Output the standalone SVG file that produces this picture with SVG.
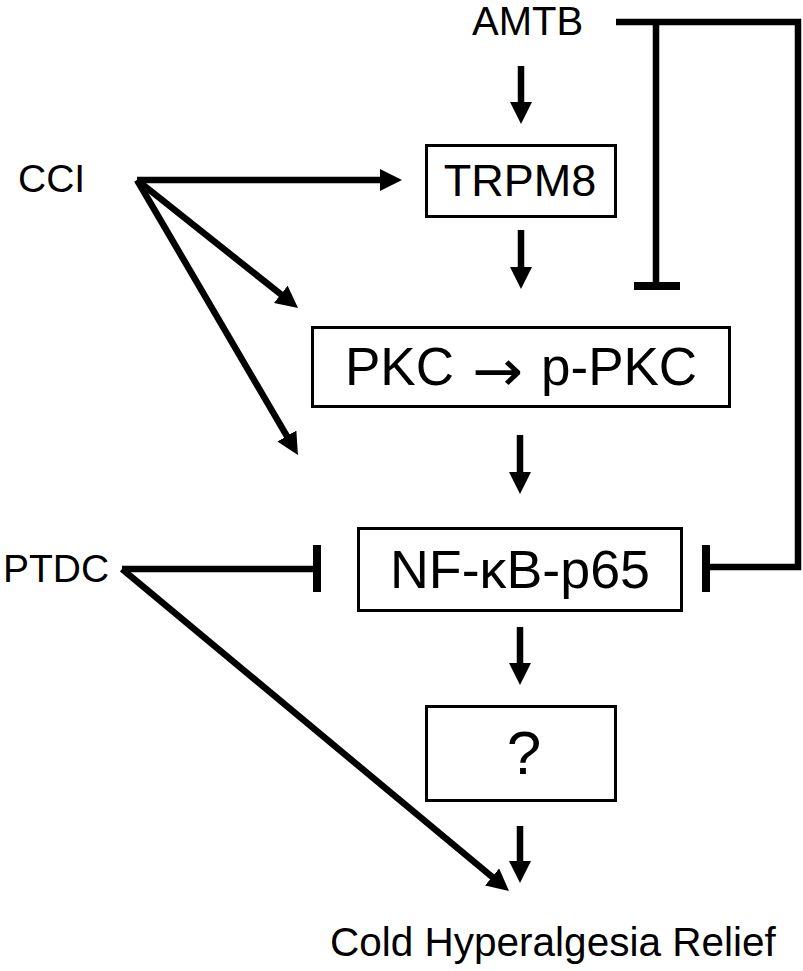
<svg xmlns="http://www.w3.org/2000/svg" width="803" height="971" viewBox="0 0 803 971">
  <style>
    text { font-family: "Liberation Sans", Arial, sans-serif; fill: #000; }
    .sym { font-family: "DejaVu Sans", sans-serif; }
    .box { fill: #fff; stroke: #000; stroke-width: 3; }
    .arr { fill: none; stroke: #000; stroke-width: 6.5; marker-end: url(#head); }
    .inh { fill: none; stroke: #000; stroke-width: 6.5; stroke-linejoin: miter; }
    .bar { fill: none; stroke: #000; stroke-width: 8; }
  </style>
  <defs>
    <marker id="head" markerUnits="userSpaceOnUse" viewBox="0 0 22 22" refX="12" refY="11" markerWidth="22" markerHeight="22" orient="auto">
      <path d="M0,0 L22,11 L0,22 z" fill="#000"/>
    </marker>
  </defs>

  <g id="connectors">
    <path class="arr" d="M521,66 L521,114"/>
    <path class="arr" d="M521,230 L521,279"/>
    <path class="arr" d="M520,435 L520,484"/>
    <path class="arr" d="M520,627 L520,675"/>
    <path class="arr" d="M520,826 L520,873"/>
    <path class="arr" d="M137,180 L392,180"/>
    <path class="arr" d="M137,180 L290.2,301.8"/>
    <path class="arr" d="M137,180 L292.9,446.4"/>
    <path class="arr" d="M122,569 L501.3,884.6"/>
    <path class="inh" d="M122,569 L317,569"/>
    <path class="bar" d="M317,545 L317,592"/>
    <path class="inh" d="M616,22 L798,22 L798,567 L706,567"/>
    <path class="bar" d="M706,545 L706,592"/>
    <path class="inh" d="M656,22 L656,286"/>
    <path class="bar" d="M634,286 L680,286"/>
  </g>

  <g id="AMTB">
    <text x="472" y="35" font-size="40">AMTB</text>
  </g>
  <g id="CCI">
    <text x="18" y="192" font-size="39">CCI</text>
  </g>
  <g id="PTDC">
    <text x="3" y="582" font-size="39">PTDC</text>
  </g>
  <g id="TRPM8">
    <rect class="box" x="426.5" y="145.5" width="189" height="71"/>
    <text x="520" y="196" font-size="45" text-anchor="middle">TRPM8</text>
  </g>
  <g id="PKC">
    <rect class="box" x="312.5" y="327.5" width="417" height="79"/>
    <text x="345" y="385" font-size="53">PKC</text>
    <text class="sym" x="472" y="391" font-size="58" textLength="51" lengthAdjust="spacingAndGlyphs">→</text>
    <text x="541" y="385" font-size="53">p-PKC</text>
  </g>
  <g id="NFkB">
    <rect class="box" x="358.5" y="528.5" width="323" height="82"/>
    <text x="520" y="588" font-size="54" text-anchor="middle" textLength="260" lengthAdjust="spacingAndGlyphs">NF-κB-p65</text>
  </g>
  <g id="unknown">
    <rect class="box" x="426.5" y="706.5" width="189" height="94"/>
    <text x="524" y="774" font-size="62" text-anchor="middle">?</text>
  </g>
  <g id="relief">
    <text x="330" y="956" font-size="40.5">Cold Hyperalgesia Relief</text>
  </g>
</svg>
